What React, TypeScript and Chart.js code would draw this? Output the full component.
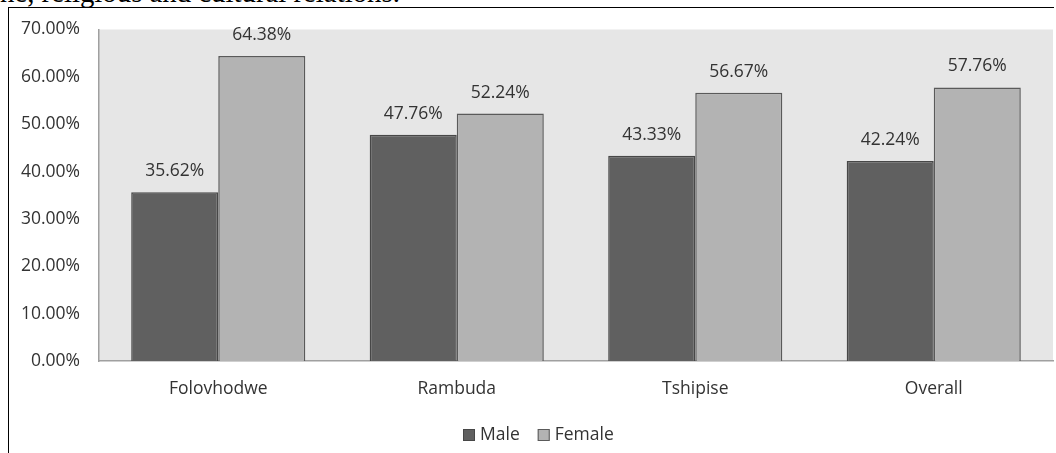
import React, { useEffect, useRef } from 'react';
import { Chart, registerables } from 'chart.js';

Chart.register(...registerables);

const categories = ['Folovhodwe', 'Rambuda', 'Tshipise', 'Overall'];
const seriesNames = ['Male', 'Female'];
const maleValues = [35.62, 47.76, 43.33, 42.24];
const femaleValues = [64.38, 52.24, 56.67, 57.76];
const yMin = 0;
const yMax = 70;
const yStep = 10;
const captionText = 'ne, religious and cultural relations.';

const FONT = '"Open Sans", "Noto Sans", sans-serif';
const FONT_SIZE = 17.5;
const TEXT_COLOR = '#333333';
const maleFill = '#606060';
const maleBorder = '#474747';
const femaleFill = '#b3b3b3';
const femaleBorder = '#5a5a5a';

const plotBg = {
  id: 'plotBg',
  beforeDraw(chart: any) {
    const { ctx, chartArea } = chart;
    ctx.save();
    ctx.fillStyle = '#e6e6e6';
    ctx.fillRect(chartArea.left, chartArea.top, chartArea.right - chartArea.left, chartArea.bottom - chartArea.top);
    ctx.restore();
  },
};

const valueLabels = {
  id: 'valueLabels',
  afterDatasetsDraw(chart: any) {
    const { ctx } = chart;
    ctx.save();
    ctx.font = `${FONT_SIZE}px ${FONT}`;
    ctx.fillStyle = TEXT_COLOR;
    ctx.textAlign = 'center';
    ctx.textBaseline = 'middle';
    chart.data.datasets.forEach((ds: any, i: number) => {
      const meta = chart.getDatasetMeta(i);
      meta.data.forEach((bar: any, j: number) => {
        const v = ds.data[j] as number;
        ctx.fillText(v.toFixed(2) + '%', bar.x, bar.y - 21);
      });
    });
    ctx.restore();
  },
};

const customLegend = {
  id: 'customLegend',
  afterDraw(chart: any) {
    const { ctx } = chart;
    ctx.save();
    ctx.font = `${FONT_SIZE}px ${FONT}`;
    ctx.textBaseline = 'middle';
    ctx.textAlign = 'left';
    let x = 463;
    const y = 435;
    const box = 12;
    chart.data.datasets.forEach((ds: any) => {
      ctx.fillStyle = ds.backgroundColor;
      ctx.fillRect(x, y - box / 2, box, box);
      ctx.strokeStyle = ds.borderColor;
      ctx.lineWidth = 1;
      ctx.strokeRect(x + 0.5, y - box / 2 + 0.5, box - 1, box - 1);
      x += box + 5;
      ctx.fillStyle = TEXT_COLOR;
      ctx.fillText(ds.label, x, y);
      x += ctx.measureText(ds.label).width + 18;
    });
    ctx.restore();
  },
};

export default function App() {
  const ref = useRef<HTMLCanvasElement | null>(null);

  useEffect(() => {
    if (!ref.current) return;
    const chart = new Chart(ref.current, {
      type: 'bar',
      data: {
        labels: categories,
        datasets: [
          {
            label: seriesNames[0],
            data: maleValues,
            backgroundColor: maleFill,
            borderColor: maleBorder,
            borderWidth: 1.5,
            categoryPercentage: 0.73,
            barPercentage: 1,
          },
          {
            label: seriesNames[1],
            data: femaleValues,
            backgroundColor: femaleFill,
            borderColor: femaleBorder,
            borderWidth: 1.5,
            categoryPercentage: 0.73,
            barPercentage: 1,
          },
        ],
      },
      options: {
        responsive: false,
        animation: false,
        devicePixelRatio: 1,
        layout: { padding: { left: 8, right: 3, top: 27, bottom: 0 } },
        plugins: {
          legend: { display: false },
          tooltip: { enabled: false },
          title: { display: false },
        },
        scales: {
          x: {
            grid: { display: false, drawTicks: false },
            border: { display: true, color: '#a0a0a0', width: 1.5 },
            ticks: {
              color: TEXT_COLOR,
              font: { family: FONT, size: FONT_SIZE },
              padding: 18,
            },
            afterFit(scale: any) {
              scale.height = 92;
            },
          },
          y: {
            min: yMin,
            max: yMax,
            grid: { display: false, drawTicks: false },
            border: { display: true, color: '#a0a0a0', width: 1.5 },
            ticks: {
              stepSize: yStep,
              color: TEXT_COLOR,
              font: { family: FONT, size: FONT_SIZE },
              padding: 19,
              callback: (v: any) => Number(v).toFixed(2) + '%',
            },
            afterFit(scale: any) {
              scale.width = 91;
            },
          },
        },
      },
      plugins: [plotBg, valueLabels, customLegend],
    });
    return () => chart.destroy();
  }, []);

  return (
    <div style={{ position: 'fixed', left: 0, top: 0, width: 1056, height: 453, background: '#fff', overflow: 'hidden' }}>
      <div
        style={{
          position: 'absolute',
          left: 0,
          top: -22,
          fontFamily: '"Liberation Serif", "Times New Roman", serif',
          fontSize: 28.8,
          lineHeight: '28.8px',
          whiteSpace: 'nowrap',
          color: '#000',
        }}
      >
        {captionText}
      </div>
      <div
        style={{
          position: 'absolute',
          left: 8,
          top: 7,
          width: 1046,
          height: 460,
          borderTop: '1.5px solid #000',
          borderLeft: '1.5px solid #000',
          boxSizing: 'border-box',
        }}
      />
      <canvas ref={ref} width={1056} height={453} style={{ position: 'absolute', left: 0, top: 0 }} />
    </div>
  );
}
